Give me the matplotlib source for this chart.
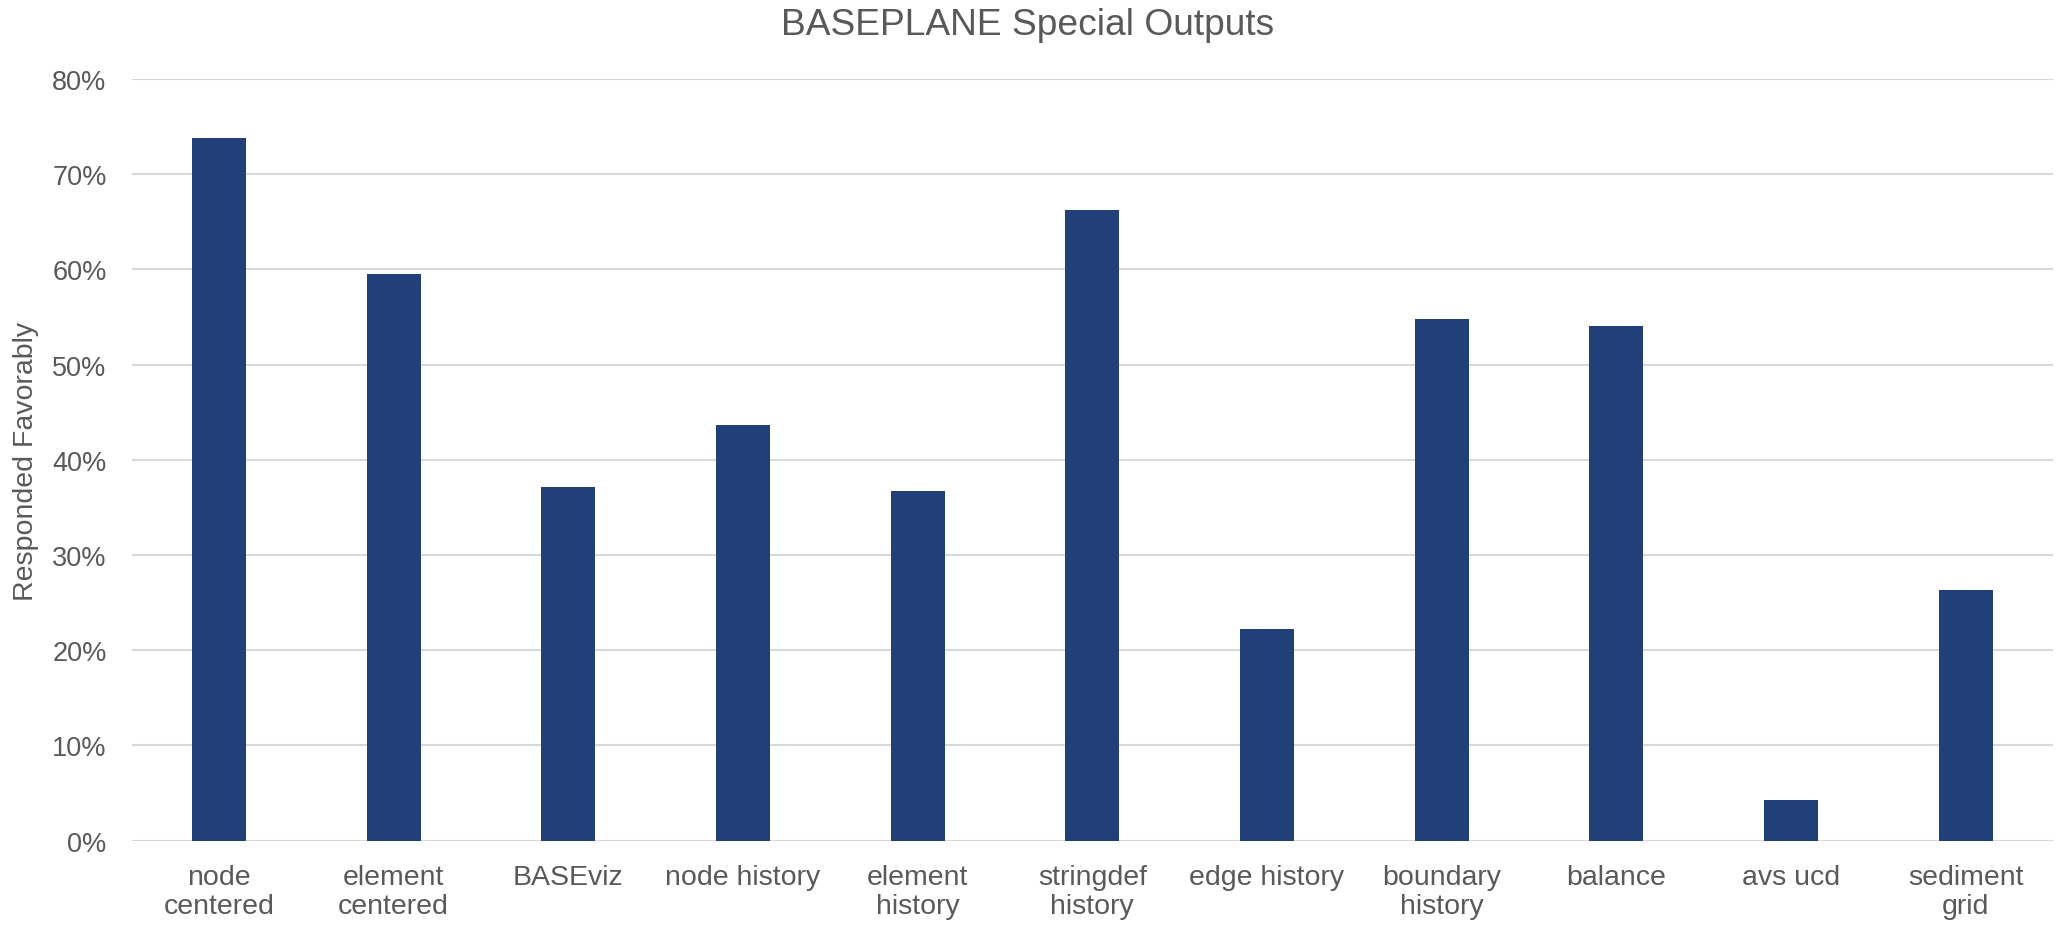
import matplotlib.pyplot as plt
from matplotlib.ticker import PercentFormatter

categories = ["node\ncentered", "element\ncentered", "BASEviz", "node history",
              "element\nhistory", "stringdef\nhistory", "edge history",
              "boundary\nhistory", "balance", "avs ucd", "sediment\ngrid"]
favorable = [73.8, 59.5, 37.2, 43.7, 36.7, 66.2, 22.2, 54.8, 54.1, 4.3, 26.3]
yticks = [0, 10, 20, 30, 40, 50, 60, 70, 80]

text_color = '#595959'
bar_color = '#21407a'
grid_color = '#d9d9d9'

plt.rcParams['font.family'] = ['Liberation Sans', 'DejaVu Sans']

fig = plt.figure(figsize=(20.56, 9.28), dpi=100)
ax = fig.add_axes([0.064, 0.093, 0.9345, 0.8208])

x = list(range(len(categories)))
ax.bar(x, favorable, width=0.31, color=bar_color, zorder=3)

ax.set_xlim(-0.5, len(categories) - 0.5)
ax.set_ylim(0, 80)
ax.set_yticks(yticks)
ax.yaxis.set_major_formatter(PercentFormatter(decimals=0))
ax.set_xticks(x)
ax.set_xticklabels(categories, linespacing=1.12)

ax.grid(axis='y', color=grid_color, linewidth=1.5, zorder=0)
for side in ['top', 'right', 'left', 'bottom']:
    ax.spines[side].set_visible(False)
ax.tick_params(axis='y', length=0, pad=18, labelsize=19.5, labelcolor=text_color)
ax.tick_params(axis='x', length=0, pad=17, labelsize=20.5, labelcolor=text_color)

fig.text(0.5, 0.972, "BASEPLANE Special Outputs", ha='center', va='center',
         fontsize=26.7, color=text_color)
fig.text(0.0126, 0.503, "Responded Favorably", ha='center', va='center',
         rotation=90, fontsize=20.5, color=text_color)

fig.savefig('out.png', dpi=100)
